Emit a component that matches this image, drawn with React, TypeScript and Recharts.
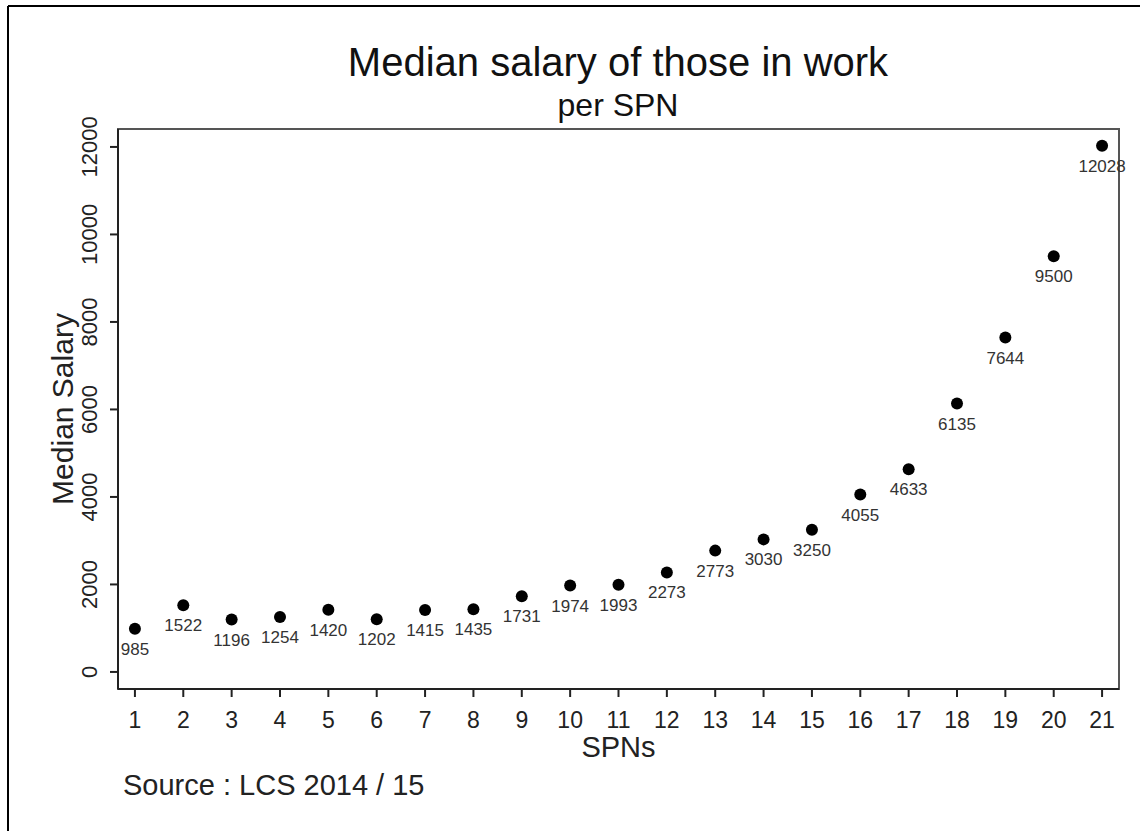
import React from "react";
import {
  ScatterChart,
  Scatter,
  XAxis,
  YAxis,
  LabelList,
  Label,
  ReferenceArea
} from "recharts";

const spns = [1, 2, 3, 4, 5, 6, 7, 8, 9, 10, 11, 12, 13, 14, 15, 16, 17, 18, 19, 20, 21];
const salaries = [
  985, 1522, 1196, 1254, 1420, 1202, 1415, 1435, 1731, 1974, 1993,
  2273, 2773, 3030, 3250, 4055, 4633, 6135, 7644, 9500, 12028
];
const yTicks = [0, 2000, 4000, 6000, 8000, 10000, 12000];

const data = spns.map((s, i) => ({ spn: s, salary: salaries[i] }));

const xDomain = [0.65, 21.35];
const yDomain = [-390, 12410];
const FONT = 'Arial, "Liberation Sans", Helvetica, sans-serif';

function YTick(props: any) {
  const { x, y, payload } = props;
  return (
    <text
      x={x}
      y={y}
      transform={`rotate(-90 ${x} ${y})`}
      textAnchor="middle"
      fontSize={22}
      fill="#222"
      fontFamily={FONT}
    >
      {payload.value}
    </text>
  );
}

function Dot(props: any) {
  const { cx, cy } = props;
  return <circle cx={cx} cy={cy} r={6} fill="#000" />;
}

function ValueLabel(props: any) {
  const { x, y, width, height, value } = props;
  const cy = y + height / 2;
  return (
    <text
      x={x + width / 2}
      y={cy + 26}
      textAnchor="middle"
      fontSize={17}
      fill="#333"
      fontFamily={FONT}
    >
      {value}
    </text>
  );
}

export default function App() {
  return (
    <div
      style={{
        position: "absolute",
        left: 0,
        top: 0,
        width: 1140,
        height: 831,
        background: "#fff",
        fontFamily: FONT
      }}
    >
      <ScatterChart
        width={1140}
        height={831}
        margin={{ top: 129, right: 21, bottom: 74, left: 0 }}
      >
        <XAxis
          type="number"
          dataKey="spn"
          domain={xDomain}
          ticks={spns}
          allowDataOverflow
          height={68}
          tickSize={8}
          tickMargin={15}
          axisLine={{ stroke: "#222", strokeWidth: 2 }}
          tickLine={{ stroke: "#222", strokeWidth: 2 }}
          tick={{ fontSize: 23, fill: "#222", fontFamily: FONT }}
        >
          <Label
            content={(p: any) => {
              const vb = p.viewBox;
              return (
                <text
                  x={vb.x + vb.width / 2}
                  y={vb.y + vb.height}
                  textAnchor="middle"
                  fontSize={29}
                  fill="#222"
                  fontFamily={FONT}
                >
                  SPNs
                </text>
              );
            }}
          />
        </XAxis>
        <YAxis
          type="number"
          dataKey="salary"
          domain={yDomain}
          ticks={yTicks}
          allowDataOverflow
          width={118}
          tickSize={8}
          tickMargin={13}
          axisLine={{ stroke: "#222", strokeWidth: 2 }}
          tickLine={{ stroke: "#222", strokeWidth: 2 }}
          tick={<YTick />}
        >
          <Label
            content={(p: any) => {
              const vb = p.viewBox;
              const cx = 73;
              const cy = vb.y + vb.height / 2;
              return (
                <text
                  x={cx}
                  y={cy}
                  transform={`rotate(-90 ${cx} ${cy})`}
                  textAnchor="middle"
                  fontSize={30}
                  fill="#222"
                  fontFamily={FONT}
                >
                  Median Salary
                </text>
              );
            }}
          />
        </YAxis>
        <ReferenceArea
          x1={xDomain[0]}
          x2={xDomain[1]}
          y1={yDomain[0]}
          y2={yDomain[1]}
          fill="none"
          stroke="#555"
          strokeWidth={2}
          ifOverflow="visible"
        />
        <Scatter
          data={data}
          fill="#000"
          shape={<Dot />}
          isAnimationActive={false}
        >
          <LabelList dataKey="salary" content={<ValueLabel />} />
        </Scatter>
      </ScatterChart>
      <svg
        width={1140}
        height={831}
        style={{ position: "absolute", left: 0, top: 0, pointerEvents: "none" }}
      >
        <line x1={8} y1={6} x2={8} y2={831} stroke="#000" strokeWidth={2} />
        <line x1={8} y1={6} x2={1140} y2={6} stroke="#000" strokeWidth={2} />
        <text x={618} y={76} textAnchor="middle" fontSize={40} fill="#111" fontFamily={FONT}>
          Median salary of those in work
        </text>
        <text x={618} y={116} textAnchor="middle" fontSize={32} fill="#111" fontFamily={FONT}>
          per SPN
        </text>
        <text x={123} y={795} fontSize={29} fill="#222" fontFamily={FONT}>
          Source : LCS 2014 / 15
        </text>
      </svg>
    </div>
  );
}
